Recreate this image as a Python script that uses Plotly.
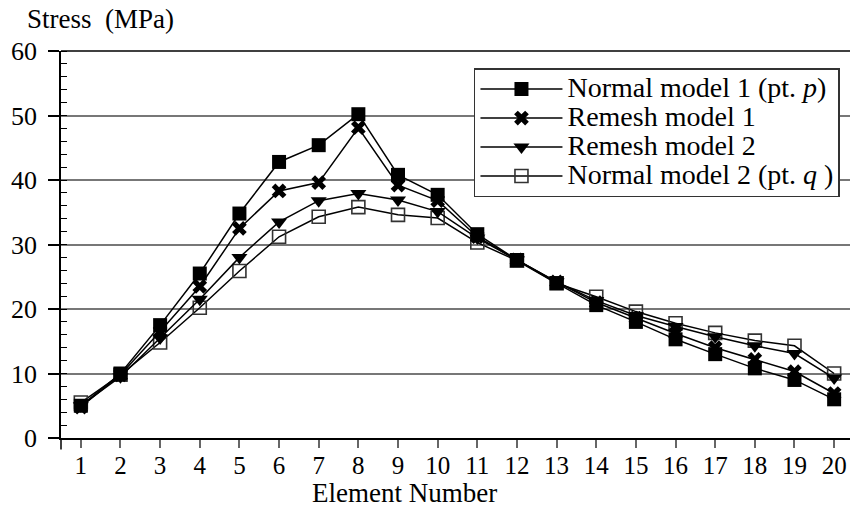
import plotly.graph_objects as go

elements = list(range(1, 21))
normal_model_1 = [5.0, 10.0, 17.5, 25.5, 34.8, 42.8, 45.4, 50.2, 40.8, 37.7, 31.6, 27.6, 24.0, 20.6, 18.0, 15.3, 13.0, 10.8, 9.0, 6.0]
remesh_model_1 = [4.8, 9.8, 16.5, 23.5, 32.5, 38.3, 39.6, 48.1, 39.2, 36.8, 31.2, 27.6, 24.2, 21.0, 18.6, 16.2, 14.0, 12.2, 10.3, 6.9]
remesh_model_2 = [5.0, 9.5, 15.5, 21.5, 28.0, 33.5, 36.8, 37.9, 36.9, 35.1, 31.0, 27.6, 24.2, 21.3, 19.0, 17.3, 15.7, 14.3, 13.1, 9.3]
normal_model_2 = [5.5, 9.8, 14.8, 20.2, 25.9, 31.2, 34.3, 35.8, 34.6, 34.1, 30.3, 27.5, 24.0, 21.9, 19.6, 17.8, 16.3, 15.1, 14.3, 10.0]

names = ["Normal model 1 (pt. <i>p</i>)", "Remesh model 1", "Remesh model 2", "Normal model 2 (pt. <i>q</i> )"]

FONT = "Liberation Serif"


def big(t):
    return '<span style="font-size:28px">' + t + '</span>'


fig = go.Figure()
# add in reverse so Normal model 1 is drawn on top; legend reversed
fig.add_trace(go.Scatter(x=elements, y=normal_model_2, name=big(names[3]), mode="lines+markers",
                         line=dict(color="black", width=1.5),
                         marker=dict(symbol="square-open", size=13, color="#333", line=dict(width=1.6, color="#333"))))
fig.add_trace(go.Scatter(x=elements, y=remesh_model_2, name=big(names[2]), mode="lines+markers",
                         line=dict(color="black", width=1.5),
                         marker=dict(symbol="triangle-down", size=14, color="black")))
fig.add_trace(go.Scatter(x=elements, y=remesh_model_1, name=big(names[1]), mode="lines+markers",
                         line=dict(color="black", width=1.5),
                         marker=dict(symbol="x", size=13, color="black", line=dict(width=0))))
fig.add_trace(go.Scatter(x=elements, y=normal_model_1, name=big(names[0]), mode="lines+markers",
                         line=dict(color="black", width=1.5),
                         marker=dict(symbol="square", size=14, color="black")))

fig.update_layout(
    width=850, height=509,
    margin=dict(l=61, r=0, t=51, b=71),
    plot_bgcolor="white", paper_bgcolor="white",
    font=dict(family=FONT, size=24, color="black"),
    showlegend=True,
    legend=dict(x=0.5234, y=0.956, xanchor="left", yanchor="top",
                traceorder="reversed", bgcolor="white",
                bordercolor="#333", borderwidth=1.5,
                font=dict(family=FONT, size=20, color="black"),
                itemwidth=82, tracegroupgap=0),
    xaxis=dict(range=[0.5, 20.4], tickmode="array", tickvals=elements,
               ticks="outside", ticklen=8, tickcolor="#666", tickwidth=1.5,
               showline=True, linecolor="black", linewidth=1.5,
               showgrid=False, zeroline=False,
               tickfont=dict(family=FONT, size=25), ticklabelstandoff=-4),
    yaxis=dict(range=[0, 60], dtick=10, tick0=0,
               ticks="outside", ticklen=11, tickcolor="black", tickwidth=1.5,
               showline=True, linecolor="black", linewidth=1.5,
               showgrid=True, gridcolor="#777", gridwidth=1.5,
               zeroline=False,
               minor=dict(dtick=2, ticks="inside", ticklen=6, tickcolor="black", tickwidth=1, showgrid=False),
               tickfont=dict(family=FONT, size=26), ticklabelstandoff=6),
)

# top border line at y = 60
fig.add_shape(type="line", xref="paper", yref="paper", x0=0, x1=1, y0=1, y1=1,
              line=dict(color="black", width=1.5))
# small extension of y axis below x axis
fig.add_shape(type="line", xref="paper", yref="paper", x0=0, x1=0, y0=0, y1=-0.03,
              line=dict(color="black", width=1.5))

fig.add_annotation(text="Stress  (MPa)", xref="paper", yref="paper",
                   x=-0.046, y=1.083, xanchor="left", yanchor="middle", showarrow=False,
                   font=dict(family=FONT, size=27))
fig.add_annotation(text="Element Number", xref="paper", yref="paper",
                   x=0.435, y=-0.141, xanchor="center", yanchor="middle", showarrow=False,
                   font=dict(family=FONT, size=27))

fig.write_html("out.html")
